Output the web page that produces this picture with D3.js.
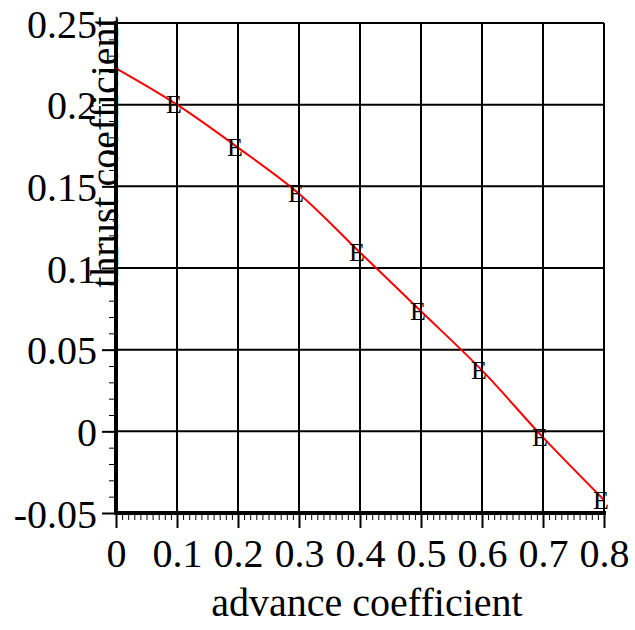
<!DOCTYPE html>
<html>
<head>
<meta charset="utf-8">
<title>thrust coefficient vs advance coefficient</title>
<script src="https://cdn.jsdelivr.net/npm/d3@7"></script>
<style>
  body { margin: 0; background: #fff; }
  text { font-family: "Liberation Serif", "Times New Roman", serif; fill: #000; }
</style>
</head>
<body>
<script>
  // data
  var advance = [0, 0.1, 0.2, 0.3, 0.4, 0.5, 0.6, 0.7, 0.8];
  var thrust = [0.2222, 0.2000, 0.1737, 0.1455, 0.1095, 0.0735, 0.0373, -0.0037, -0.0420];
  // measured points, drawn as "E"
  var pointsX = [0.1, 0.2, 0.3, 0.4, 0.5, 0.6, 0.7, 0.8];
  var pointsY = [0.2000, 0.1737, 0.1455, 0.1095, 0.0735, 0.0373, -0.0037, -0.0420];
  var xTicks = [0, 0.1, 0.2, 0.3, 0.4, 0.5, 0.6, 0.7, 0.8];
  var xTickLabels = ["0", "0.1", "0.2", "0.3", "0.4", "0.5", "0.6", "0.7", "0.8"];
  var yTicks = [-0.05, 0, 0.05, 0.1, 0.15, 0.2, 0.25];
  var yTickLabels = ["-0.05", "0", "0.05", "0.1", "0.15", "0.2", "0.25"];

  var width = 635, height = 630;
  var pLeft = 116, pRight = 604, pTop = 23, pBottom = 513;

  var x = d3.scaleLinear().domain([0, 0.8]).range([pLeft, pRight]);
  var y = d3.scaleLinear().domain([-0.05, 0.25]).range([pBottom, pTop]);

  var svg = d3.select("body").append("svg")
      .attr("width", width)
      .attr("height", height);
  svg.append("rect").attr("width", width).attr("height", height).attr("fill", "#fff");

  // grid
  svg.append("g").selectAll("line")
      .data(xTicks.slice(1))
      .enter().append("line")
      .attr("x1", function(d) { return x(d); })
      .attr("x2", function(d) { return x(d); })
      .attr("y1", pTop).attr("y2", pBottom)
      .attr("stroke", "#000").attr("stroke-width", 2);
  svg.append("g").selectAll("line")
      .data(yTicks.slice(1))
      .enter().append("line")
      .attr("y1", function(d) { return y(d); })
      .attr("y2", function(d) { return y(d); })
      .attr("x1", pLeft).attr("x2", pRight)
      .attr("stroke", "#000").attr("stroke-width", 2);

  // minor ticks (0.01 steps)
  var minorX = d3.range(0, 81).map(function(i) { return i / 100; });
  var minorY = d3.range(-5, 26).map(function(i) { return i / 100; });
  svg.append("g")
      .attr("transform", "translate(0," + pBottom + ")")
      .call(d3.axisBottom(x).tickValues(minorX).tickSize(7).tickFormat(""))
      .call(function(g) { g.select(".domain").remove(); });
  svg.append("g")
      .attr("transform", "translate(" + pLeft + ",0)")
      .call(d3.axisLeft(y).tickValues(minorY).tickSize(7).tickFormat(""))
      .call(function(g) { g.select(".domain").remove(); });

  // major ticks and labels
  var xAxis = svg.append("g")
      .attr("transform", "translate(0," + pBottom + ")")
      .call(d3.axisBottom(x).tickValues(xTicks).tickSize(15)
        .tickFormat(function(d, i) { return xTickLabels[i]; }));
  xAxis.select(".domain").remove();
  xAxis.selectAll("line").attr("stroke-width", 2);
  xAxis.selectAll("text").attr("font-size", 40).attr("font-family", null)
      .attr("y", 54).attr("dy", 0);

  var yAxis = svg.append("g")
      .attr("transform", "translate(" + pLeft + ",0)")
      .call(d3.axisLeft(y).tickValues(yTicks).tickSize(14)
        .tickFormat(function(d, i) { return yTickLabels[i]; }));
  yAxis.select(".domain").remove();
  yAxis.selectAll("line").attr("stroke-width", 2);
  yAxis.selectAll("text").attr("font-size", 40).attr("font-family", null)
      .attr("x", -19).attr("dy", "0.35em");

  svg.selectAll(".tick line").attr("stroke", "#000");

  // axis lines
  svg.append("line").attr("x1", pLeft).attr("x2", pLeft)
      .attr("y1", pTop - 2).attr("y2", pBottom + 2)
      .attr("stroke", "#000").attr("stroke-width", 4);
  svg.append("line").attr("x1", pLeft - 2).attr("x2", pRight + 2)
      .attr("y1", pBottom).attr("y2", pBottom)
      .attr("stroke", "#000").attr("stroke-width", 4);

  // curve
  var line = d3.line()
      .x(function(d) { return x(d[0]); })
      .y(function(d) { return y(d[1]); })
      .curve(d3.curveCatmullRom);
  svg.append("path")
      .datum(d3.zip(advance, thrust))
      .attr("d", line)
      .attr("fill", "none")
      .attr("stroke", "#ff0000")
      .attr("stroke-width", 2);

  // E markers
  svg.append("g").selectAll("text")
      .data(d3.zip(pointsX, pointsY))
      .enter().append("text")
      .attr("x", function(d) { return x(d[0]) - 3; })
      .attr("y", function(d) { return y(d[1]); })
      .attr("dy", "0.33em")
      .attr("text-anchor", "middle")
      .attr("font-size", 26)
      .text("E");

  // axis titles
  svg.append("text")
      .attr("x", 367).attr("y", 616)
      .attr("text-anchor", "middle")
      .attr("font-size", 40)
      .text("advance coefficient");
  svg.append("text")
      .attr("transform", "translate(118,152) rotate(-90)")
      .attr("text-anchor", "middle")
      .attr("font-size", 40)
      .text("thrust coefficient");
</script>
</body>
</html>
